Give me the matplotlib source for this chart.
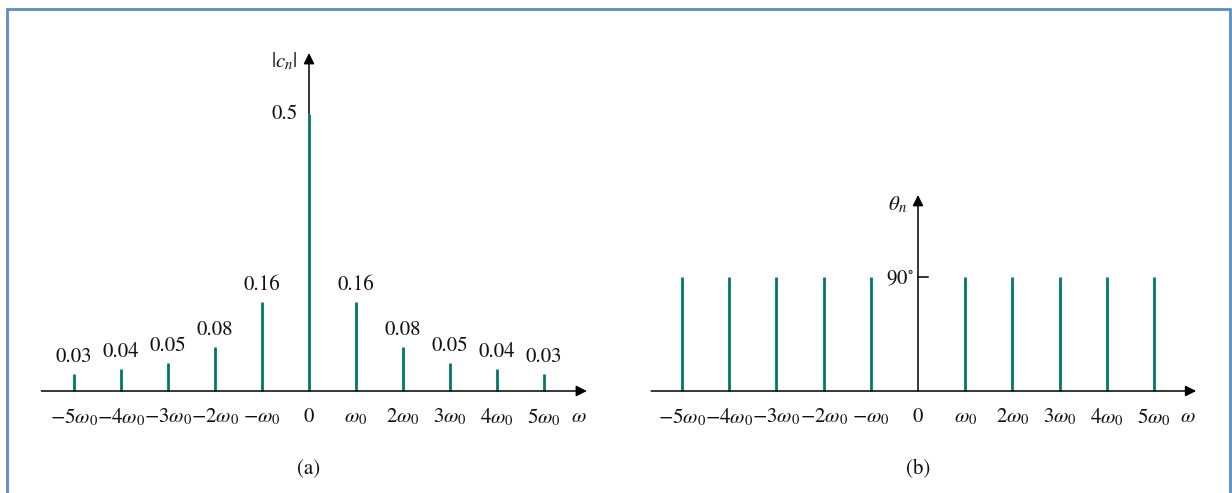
import matplotlib
matplotlib.use('Agg')
import matplotlib.pyplot as plt
from matplotlib.patches import Rectangle

plt.rcParams['mathtext.fontset'] = 'stix'
plt.rcParams['font.family'] = 'STIXGeneral'

# data
harmonics = [-5, -4, -3, -2, -1, 0, 1, 2, 3, 4, 5]
magnitudes = [0.03, 0.04, 0.05, 0.08, 0.16, 0.5, 0.16, 0.08, 0.05, 0.04, 0.03]
mag_labels = ['0.03', '0.04', '0.05', '0.08', '0.16', '0.5', '0.16', '0.08', '0.05', '0.04', '0.03']
phases = [90, 90, 90, 90, 90, 0, 90, 90, 90, 90, 90]
tick_labels = [r'$-5\omega_0$', r'$-4\omega_0$', r'$-3\omega_0$', r'$-2\omega_0$', r'$-\omega_0$',
               r'$0$', r'$\omega_0$', r'$2\omega_0$', r'$3\omega_0$', r'$4\omega_0$', r'$5\omega_0$']

W, H = 1232, 493
STEM = '#00786F'
TXT = '#111111'
FS = 15

fig = plt.figure(figsize=(W / 100, H / 100), dpi=100)

# frame around the whole picture
fig.patches.append(Rectangle((7 / W, -0.05), 1223 / W, (H - 9) / H + 0.05,
                             transform=fig.transFigure, fill=False,
                             edgecolor='#5B8CCB', lw=2.0))


def panel_axes(center_px, step_px, axis_px, unit_px, left, right, top, bottom):
    # axes placed in pixel terms so both panels line up like the original
    ax = fig.add_axes([left / W, (H - bottom) / H, (right - left) / W, (bottom - top) / H])
    ax.set_xlim((left - center_px) / step_px, (right - center_px) / step_px)
    ax.set_ylim((axis_px - bottom) / unit_px, (axis_px - top) / unit_px)
    ax.axis('off')
    return ax


def arrow(ax, x0, y0, x1, y1):
    ax.annotate('', xy=(x1, y1), xytext=(x0, y0),
                arrowprops=dict(arrowstyle='-|>', mutation_scale=16, lw=1.1,
                                color='black', shrinkA=0, shrinkB=0))


def omega_axis(ax, x0, x1, wx, caption):
    arrow(ax, x0, 0, x1, 0)
    for n, lab in zip(harmonics, tick_labels):
        ax.annotate(lab, xy=(n, 0), xytext=(0, -19), textcoords='offset points',
                    ha='center', va='center', fontsize=FS, color=TXT)
    ax.annotate(r'$\omega$', xy=(wx, 0), xytext=(0, -19), textcoords='offset points',
                ha='center', va='center', fontsize=FS, color=TXT)
    ax.annotate(caption, xy=(0, 0), xytext=(0, -56), textcoords='offset points',
                ha='center', va='center', fontsize=FS, color=TXT)


# (a) amplitude spectrum
ax1 = panel_axes(309, 46.95, 391, 554, 20, 600, 30, 480)
ax1.vlines(harmonics, 0, magnitudes, color=STEM, lw=2.0, zorder=3)
omega_axis(ax1, -5.70, 5.92, 5.75, '(a)')
arrow(ax1, 0, 0.5, 0, 0.61)
for n, m, lab in zip(harmonics, magnitudes, mag_labels):
    if n == 0:
        ax1.annotate(lab, xy=(n, m), xytext=(-8, 0), textcoords='offset points',
                     ha='right', va='center', fontsize=FS, color=TXT)
    else:
        ax1.annotate(lab, xy=(n, m), xytext=(0, 5), textcoords='offset points',
                     ha='center', va='bottom', fontsize=FS, color=TXT)
ax1.annotate(r'$|c_n|$', xy=(0, 0.594), xytext=(-8, 0), textcoords='offset points',
             ha='right', va='center', fontsize=FS, color=TXT)

# (b) phase spectrum
ax2 = panel_axes(918, 47.23, 391, 1.267, 630, 1215, 30, 480)
side = [n for n in harmonics if n != 0]
side_ph = [p for n, p in zip(harmonics, phases) if n != 0]
ax2.vlines(side, 0, side_ph, color=STEM, lw=2.0, zorder=3)
omega_axis(ax2, -5.65, 5.89, 5.72, '(b)')
arrow(ax2, 0, 0, 0, 154.7)
ax2.plot([0, 0.21], [90, 90], color='black', lw=1.1)
ax2.annotate(r'$90^{\circ}$', xy=(0, 90), xytext=(-3, -2), textcoords='offset points',
             ha='right', va='center', fontsize=FS, color=TXT)
ax2.annotate(r'$\theta_n$', xy=(0, 147), xytext=(-8, 0), textcoords='offset points',
             ha='right', va='center', fontsize=FS, color=TXT)

fig.savefig('out.png', dpi=100)
